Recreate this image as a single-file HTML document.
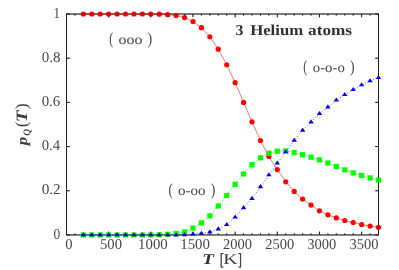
<!DOCTYPE html>
<html><head><meta charset="utf-8"><title>3 Helium atoms</title>
<style>html,body{margin:0;padding:0;background:#fff;overflow:hidden}svg{display:block}text{font-family:"Liberation Serif",serif;text-rendering:geometricPrecision}</style>
</head><body>
<svg width="399" height="270" viewBox="0 0 399 270">
<rect width="399" height="270" fill="#fff"/>
<g stroke="#1c1c1c" stroke-width="1" fill="none" opacity="1">
<rect x="66.50" y="14.00" width="312.00" height="220.95"/>
<path d="M66.50 234.95v-3.30M66.50 14.00v3.30M74.93 234.95v-1.60M74.93 14.00v1.60M83.36 234.95v-1.60M83.36 14.00v1.60M91.80 234.95v-1.60M91.80 14.00v1.60M100.23 234.95v-1.60M100.23 14.00v1.60M108.66 234.95v-3.30M108.66 14.00v3.30M117.09 234.95v-1.60M117.09 14.00v1.60M125.53 234.95v-1.60M125.53 14.00v1.60M133.96 234.95v-1.60M133.96 14.00v1.60M142.39 234.95v-1.60M142.39 14.00v1.60M150.82 234.95v-3.30M150.82 14.00v3.30M159.26 234.95v-1.60M159.26 14.00v1.60M167.69 234.95v-1.60M167.69 14.00v1.60M176.12 234.95v-1.60M176.12 14.00v1.60M184.55 234.95v-1.60M184.55 14.00v1.60M192.99 234.95v-3.30M192.99 14.00v3.30M201.42 234.95v-1.60M201.42 14.00v1.60M209.85 234.95v-1.60M209.85 14.00v1.60M218.28 234.95v-1.60M218.28 14.00v1.60M226.72 234.95v-1.60M226.72 14.00v1.60M235.15 234.95v-3.30M235.15 14.00v3.30M243.58 234.95v-1.60M243.58 14.00v1.60M252.01 234.95v-1.60M252.01 14.00v1.60M260.45 234.95v-1.60M260.45 14.00v1.60M268.88 234.95v-1.60M268.88 14.00v1.60M277.31 234.95v-3.30M277.31 14.00v3.30M285.74 234.95v-1.60M285.74 14.00v1.60M294.18 234.95v-1.60M294.18 14.00v1.60M302.61 234.95v-1.60M302.61 14.00v1.60M311.04 234.95v-1.60M311.04 14.00v1.60M319.47 234.95v-3.30M319.47 14.00v3.30M327.91 234.95v-1.60M327.91 14.00v1.60M336.34 234.95v-1.60M336.34 14.00v1.60M344.77 234.95v-1.60M344.77 14.00v1.60M353.20 234.95v-1.60M353.20 14.00v1.60M361.64 234.95v-3.30M361.64 14.00v3.30M370.07 234.95v-1.60M370.07 14.00v1.60M378.50 234.95v-1.60M378.50 14.00v1.60M66.50 234.95h3.3M378.50 234.95h-3.3M66.50 190.76h3.3M378.50 190.76h-3.3M66.50 146.57h3.3M378.50 146.57h-3.3M66.50 102.38h3.3M378.50 102.38h-3.3M66.50 58.19h3.3M378.50 58.19h-3.3M66.50 14.00h3.3M378.50 14.00h-3.3"/>
</g>
<polyline fill="none" stroke="#ff0000" stroke-width="0.55" points="83.36,14.00 91.80,14.00 100.23,14.00 108.66,14.00 117.09,14.00 125.53,14.00 133.96,14.00 142.39,14.00 150.82,14.00 159.26,14.22 167.69,14.66 176.12,15.55 184.55,17.54 192.99,21.51 201.42,27.70 209.85,36.76 218.28,49.13 226.72,64.82 235.15,82.72 243.58,102.38 252.01,121.82 260.45,140.49 268.88,156.51 277.31,169.55 285.74,181.79 294.18,191.42 302.61,199.05 311.04,205.12 319.47,210.78 327.91,214.84 336.34,217.94 344.77,220.50 353.20,222.51 361.64,224.57 370.07,226.11 378.50,227.33"/>
<g fill="#ff0000"><circle cx="83.36" cy="14.00" r="2.6"/><circle cx="91.80" cy="14.00" r="2.6"/><circle cx="100.23" cy="14.00" r="2.6"/><circle cx="108.66" cy="14.00" r="2.6"/><circle cx="117.09" cy="14.00" r="2.6"/><circle cx="125.53" cy="14.00" r="2.6"/><circle cx="133.96" cy="14.00" r="2.6"/><circle cx="142.39" cy="14.00" r="2.6"/><circle cx="150.82" cy="14.00" r="2.6"/><circle cx="159.26" cy="14.22" r="2.6"/><circle cx="167.69" cy="14.66" r="2.6"/><circle cx="176.12" cy="15.55" r="2.6"/><circle cx="184.55" cy="17.54" r="2.6"/><circle cx="192.99" cy="21.51" r="2.6"/><circle cx="201.42" cy="27.70" r="2.6"/><circle cx="209.85" cy="36.76" r="2.6"/><circle cx="218.28" cy="49.13" r="2.6"/><circle cx="226.72" cy="64.82" r="2.6"/><circle cx="235.15" cy="82.72" r="2.6"/><circle cx="243.58" cy="102.38" r="2.6"/><circle cx="252.01" cy="121.82" r="2.6"/><circle cx="260.45" cy="140.49" r="2.6"/><circle cx="268.88" cy="156.51" r="2.6"/><circle cx="277.31" cy="169.55" r="2.6"/><circle cx="285.74" cy="181.79" r="2.6"/><circle cx="294.18" cy="191.42" r="2.6"/><circle cx="302.61" cy="199.05" r="2.6"/><circle cx="311.04" cy="205.12" r="2.6"/><circle cx="319.47" cy="210.78" r="2.6"/><circle cx="327.91" cy="214.84" r="2.6"/><circle cx="336.34" cy="217.94" r="2.6"/><circle cx="344.77" cy="220.50" r="2.6"/><circle cx="353.20" cy="222.51" r="2.6"/><circle cx="361.64" cy="224.57" r="2.6"/><circle cx="370.07" cy="226.11" r="2.6"/><circle cx="378.50" cy="227.33" r="2.6"/></g>
<polyline fill="none" stroke="#00ff00" stroke-width="0.6" stroke-dasharray="2.2 1.3" points="83.36,234.95 91.80,234.95 100.23,234.95 108.66,234.95 117.09,234.95 125.53,234.95 133.96,234.95 142.39,234.95 150.82,234.95 159.26,234.73 167.69,234.29 176.12,233.54 184.55,231.95 192.99,228.10 201.42,222.91 209.85,215.84 218.28,206.01 226.72,195.40 235.15,184.35 243.58,173.97 252.01,164.69 260.45,157.84 268.88,153.20 277.31,151.21 285.74,150.99 294.18,152.54 302.61,154.75 311.04,157.18 319.47,159.83 327.91,163.03 336.34,166.46 344.77,169.86 353.20,172.86 361.64,175.51 370.07,177.94 378.50,180.15"/>
<g fill="#00ff00"><rect x="80.76" y="232.35" width="5.2" height="5.2"/><rect x="89.20" y="232.35" width="5.2" height="5.2"/><rect x="97.63" y="232.35" width="5.2" height="5.2"/><rect x="106.06" y="232.35" width="5.2" height="5.2"/><rect x="114.49" y="232.35" width="5.2" height="5.2"/><rect x="122.93" y="232.35" width="5.2" height="5.2"/><rect x="131.36" y="232.35" width="5.2" height="5.2"/><rect x="139.79" y="232.35" width="5.2" height="5.2"/><rect x="148.22" y="232.35" width="5.2" height="5.2"/><rect x="156.66" y="232.13" width="5.2" height="5.2"/><rect x="165.09" y="231.69" width="5.2" height="5.2"/><rect x="173.52" y="230.94" width="5.2" height="5.2"/><rect x="181.95" y="229.35" width="5.2" height="5.2"/><rect x="190.39" y="225.50" width="5.2" height="5.2"/><rect x="198.82" y="220.31" width="5.2" height="5.2"/><rect x="207.25" y="213.24" width="5.2" height="5.2"/><rect x="215.68" y="203.41" width="5.2" height="5.2"/><rect x="224.12" y="192.80" width="5.2" height="5.2"/><rect x="232.55" y="181.75" width="5.2" height="5.2"/><rect x="240.98" y="171.37" width="5.2" height="5.2"/><rect x="249.41" y="162.09" width="5.2" height="5.2"/><rect x="257.85" y="155.24" width="5.2" height="5.2"/><rect x="266.28" y="150.60" width="5.2" height="5.2"/><rect x="274.71" y="148.61" width="5.2" height="5.2"/><rect x="283.14" y="148.39" width="5.2" height="5.2"/><rect x="291.58" y="149.94" width="5.2" height="5.2"/><rect x="300.01" y="152.15" width="5.2" height="5.2"/><rect x="308.44" y="154.58" width="5.2" height="5.2"/><rect x="316.87" y="157.23" width="5.2" height="5.2"/><rect x="325.31" y="160.43" width="5.2" height="5.2"/><rect x="333.74" y="163.86" width="5.2" height="5.2"/><rect x="342.17" y="167.26" width="5.2" height="5.2"/><rect x="350.60" y="170.26" width="5.2" height="5.2"/><rect x="359.04" y="172.91" width="5.2" height="5.2"/><rect x="367.47" y="175.34" width="5.2" height="5.2"/><rect x="375.90" y="177.55" width="5.2" height="5.2"/></g>
<polyline fill="none" stroke="#0000ff" stroke-width="0.65" stroke-dasharray="1 1.9" points="83.36,234.95 91.80,234.95 100.23,234.95 108.66,234.95 117.09,234.95 125.53,234.95 133.96,234.95 142.39,234.95 150.82,234.95 159.26,234.95 167.69,234.95 176.12,235.03 184.55,234.81 192.99,234.15 201.42,233.48 209.85,232.05 218.28,229.06 226.72,224.64 235.15,217.13 243.58,207.85 252.01,198.57 260.45,186.86 268.88,174.93 277.31,163.22 285.74,151.95 294.18,140.46 302.61,130.30 311.04,122.12 319.47,113.73 327.91,107.10 336.34,100.25 344.77,94.73 353.20,89.64 361.64,85.00 370.07,80.89 378.50,77.71"/>
<g fill="#0000ff"><path d="M83.36 232.20L80.61 236.30L86.11 236.30Z"/><path d="M91.80 232.20L89.05 236.30L94.55 236.30Z"/><path d="M100.23 232.20L97.48 236.30L102.98 236.30Z"/><path d="M108.66 232.20L105.91 236.30L111.41 236.30Z"/><path d="M117.09 232.20L114.34 236.30L119.84 236.30Z"/><path d="M125.53 232.20L122.78 236.30L128.28 236.30Z"/><path d="M133.96 232.20L131.21 236.30L136.71 236.30Z"/><path d="M142.39 232.20L139.64 236.30L145.14 236.30Z"/><path d="M150.82 232.20L148.07 236.30L153.57 236.30Z"/><path d="M159.26 232.20L156.51 236.30L162.01 236.30Z"/><path d="M167.69 232.20L164.94 236.30L170.44 236.30Z"/><path d="M176.12 232.28L173.37 236.38L178.87 236.38Z"/><path d="M184.55 232.06L181.80 236.16L187.30 236.16Z"/><path d="M192.99 231.40L190.24 235.50L195.74 235.50Z"/><path d="M201.42 230.73L198.67 234.83L204.17 234.83Z"/><path d="M209.85 229.30L207.10 233.40L212.60 233.40Z"/><path d="M218.28 226.31L215.53 230.41L221.03 230.41Z"/><path d="M226.72 221.89L223.97 225.99L229.47 225.99Z"/><path d="M235.15 214.38L232.40 218.48L237.90 218.48Z"/><path d="M243.58 205.10L240.83 209.20L246.33 209.20Z"/><path d="M252.01 195.82L249.26 199.92L254.76 199.92Z"/><path d="M260.45 184.11L257.70 188.21L263.20 188.21Z"/><path d="M268.88 172.18L266.13 176.28L271.63 176.28Z"/><path d="M277.31 160.47L274.56 164.57L280.06 164.57Z"/><path d="M285.74 149.20L282.99 153.30L288.49 153.30Z"/><path d="M294.18 137.71L291.43 141.81L296.93 141.81Z"/><path d="M302.61 127.55L299.86 131.65L305.36 131.65Z"/><path d="M311.04 119.37L308.29 123.47L313.79 123.47Z"/><path d="M319.47 110.98L316.72 115.08L322.22 115.08Z"/><path d="M327.91 104.35L325.16 108.45L330.66 108.45Z"/><path d="M336.34 97.50L333.59 101.60L339.09 101.60Z"/><path d="M344.77 91.98L342.02 96.08L347.52 96.08Z"/><path d="M353.20 86.89L350.45 90.99L355.95 90.99Z"/><path d="M361.64 82.25L358.89 86.35L364.39 86.35Z"/><path d="M370.07 78.14L367.32 82.24L372.82 82.24Z"/><path d="M378.50 74.96L375.75 79.06L381.25 79.06Z"/></g>
<g stroke="#1c1c1c" stroke-width="1" fill="none" opacity="0.3">
<rect x="66.50" y="14.00" width="312.00" height="220.95"/>
<path d="M66.50 234.95v-3.30M66.50 14.00v3.30M74.93 234.95v-1.60M74.93 14.00v1.60M83.36 234.95v-1.60M83.36 14.00v1.60M91.80 234.95v-1.60M91.80 14.00v1.60M100.23 234.95v-1.60M100.23 14.00v1.60M108.66 234.95v-3.30M108.66 14.00v3.30M117.09 234.95v-1.60M117.09 14.00v1.60M125.53 234.95v-1.60M125.53 14.00v1.60M133.96 234.95v-1.60M133.96 14.00v1.60M142.39 234.95v-1.60M142.39 14.00v1.60M150.82 234.95v-3.30M150.82 14.00v3.30M159.26 234.95v-1.60M159.26 14.00v1.60M167.69 234.95v-1.60M167.69 14.00v1.60M176.12 234.95v-1.60M176.12 14.00v1.60M184.55 234.95v-1.60M184.55 14.00v1.60M192.99 234.95v-3.30M192.99 14.00v3.30M201.42 234.95v-1.60M201.42 14.00v1.60M209.85 234.95v-1.60M209.85 14.00v1.60M218.28 234.95v-1.60M218.28 14.00v1.60M226.72 234.95v-1.60M226.72 14.00v1.60M235.15 234.95v-3.30M235.15 14.00v3.30M243.58 234.95v-1.60M243.58 14.00v1.60M252.01 234.95v-1.60M252.01 14.00v1.60M260.45 234.95v-1.60M260.45 14.00v1.60M268.88 234.95v-1.60M268.88 14.00v1.60M277.31 234.95v-3.30M277.31 14.00v3.30M285.74 234.95v-1.60M285.74 14.00v1.60M294.18 234.95v-1.60M294.18 14.00v1.60M302.61 234.95v-1.60M302.61 14.00v1.60M311.04 234.95v-1.60M311.04 14.00v1.60M319.47 234.95v-3.30M319.47 14.00v3.30M327.91 234.95v-1.60M327.91 14.00v1.60M336.34 234.95v-1.60M336.34 14.00v1.60M344.77 234.95v-1.60M344.77 14.00v1.60M353.20 234.95v-1.60M353.20 14.00v1.60M361.64 234.95v-3.30M361.64 14.00v3.30M370.07 234.95v-1.60M370.07 14.00v1.60M378.50 234.95v-1.60M378.50 14.00v1.60M66.50 234.95h3.3M378.50 234.95h-3.3M66.50 190.76h3.3M378.50 190.76h-3.3M66.50 146.57h3.3M378.50 146.57h-3.3M66.50 102.38h3.3M378.50 102.38h-3.3M66.50 58.19h3.3M378.50 58.19h-3.3M66.50 14.00h3.3M378.50 14.00h-3.3"/>
</g>
<defs><filter id="idf" x="0" y="0" width="399" height="270" filterUnits="userSpaceOnUse" color-interpolation-filters="sRGB"><feOffset dx="0" dy="0"/></filter></defs>
<g filter="url(#idf)" fill="#484848">
<text transform="translate(53.53,238.50) scale(0.8992,1.0000)" font-size="15.00">0</text>
<text transform="translate(41.67,194.31) scale(1.0172,1.0000)" font-size="15.00">0.2</text>
<text transform="translate(41.68,150.12) scale(0.9833,1.0000)" font-size="15.00">0.4</text>
<text transform="translate(41.68,105.93) scale(0.9916,1.0000)" font-size="15.00">0.6</text>
<text transform="translate(41.68,61.74) scale(1.0000,1.0000)" font-size="15.00">0.8</text>
<text transform="translate(53.60,17.55) scale(0.8638,1.0000)" font-size="15.00">1</text>
<text transform="translate(65.29,249.40) scale(0.9767,1.0000)" font-size="15.00">0</text>
<text transform="translate(99.95,249.40) scale(0.9787,1.0000)" font-size="15.00">500</text>
<text transform="translate(138.06,249.40) scale(0.9894,1.0000)" font-size="15.00">1000</text>
<text transform="translate(180.23,249.40) scale(0.9894,1.0000)" font-size="15.00">1500</text>
<text transform="translate(223.07,249.40) scale(0.9662,1.0000)" font-size="15.00">2000</text>
<text transform="translate(265.23,249.40) scale(0.9662,1.0000)" font-size="15.00">2500</text>
<text transform="translate(307.32,249.40) scale(0.9687,1.0000)" font-size="15.00">3000</text>
<text transform="translate(349.48,249.40) scale(0.9687,1.0000)" font-size="15.00">3500</text>
<text transform="translate(109.37,43.90) scale(0.6992,1.0000)" font-size="17.00">(</text>
<text transform="translate(118.54,44.00) scale(1.1554,1.0000)" font-size="13.80">ooo</text>
<text transform="translate(147.48,43.90) scale(0.8258,1.0000)" font-size="17.00">)</text>
<text transform="translate(303.13,72.30) scale(0.6881,1.0000)" font-size="17.00">(</text>
<text transform="translate(312.78,72.40) scale(1.0717,1.0000)" font-size="13.80">o-o-o</text>
<text transform="translate(350.08,72.30) scale(0.8145,1.0000)" font-size="17.00">)</text>
<text transform="translate(168.49,194.50) scale(0.7547,1.0000)" font-size="17.00">(</text>
<text transform="translate(178.07,194.60) scale(1.0892,1.0000)" font-size="13.80">o-oo</text>
<text transform="translate(210.68,194.50) scale(0.8145,1.0000)" font-size="17.00">)</text>
<text transform="translate(235.54,34.50) scale(1.0575,1.0000)" font-size="15.00" font-weight="bold" fill="#303030">3</text>
<text transform="translate(250.15,34.50) scale(1.1173,1.0000)" font-size="15.00" font-weight="bold" fill="#303030">Helium</text>
<text transform="translate(308.08,34.50) scale(1.1462,1.0000)" font-size="15.00" font-weight="bold" fill="#303030">atoms</text>
<text transform="translate(202.17,264.40) scale(1.2638,1.0000)" font-size="15.00" font-weight="bold" font-style="italic" fill="#303030">T</text>
<g stroke="#3a3a3a" stroke-width="0.45" fill="#3a3a3a">
<text transform="translate(220.11,265.20) scale(0.6650,1.0000)" font-size="17.00">[</text>
<text transform="translate(238.00,265.20) scale(0.6797,1.0000)" font-size="17.00">]</text>
</g>
<text transform="translate(223.30,264.40) scale(1.3237,1.0000)" font-size="15.00" fill="#383838">K</text>
<g transform="translate(26.2,146.6) rotate(-90)" fill="#3c3c3c">
<text transform="translate(1.47,0.50) scale(1.1254,1.0000)" font-size="15.00" font-weight="bold" font-style="italic">p</text>
<text transform="translate(10.87,3.30) scale(0.9740,1.0000)" font-size="9.80" font-weight="bold" font-style="italic">Q</text>
<text transform="translate(19.68,0.80) scale(0.9101,1.0000)" font-size="17.00" fill="#3a3a3a">(</text>
<text transform="translate(24.45,0.30) scale(1.2870,1.0600)" font-size="15.00" font-weight="bold" font-style="italic">T</text>
<text transform="translate(37.27,0.80) scale(1.0407,1.0000)" font-size="17.00" fill="#3a3a3a">)</text>
</g>
</g>
</svg>
</body></html>
